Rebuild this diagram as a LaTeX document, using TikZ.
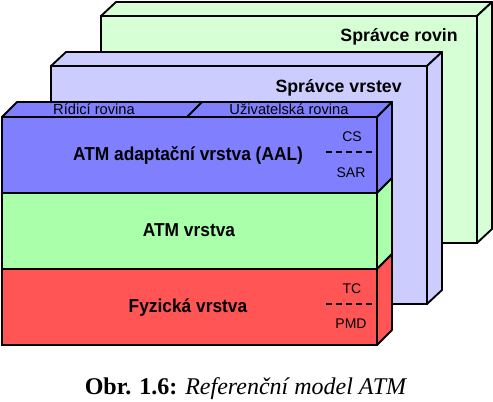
\documentclass[tikz,border=0pt]{standalone}
\usepackage{fontspec}
\setmainfont{Liberation Serif}
\setsansfont{Liberation Sans}
\usetikzlibrary{positioning}

\definecolor{planecol}{HTML}{D6FFD6}
\definecolor{layercol}{HTML}{CCCCFF}
\definecolor{aalcol}{HTML}{8080FF}
\definecolor{atmcol}{HTML}{AAFFAA}
\definecolor{phycol}{HTML}{FF5555}

\newcommand{\tallish}[1]{\scalebox{1}[1.08]{#1}}

\begin{document}
\begin{tikzpicture}[
    x=0.75pt, y=-0.75pt,
    front/.style={draw=black, line width=2.2pt, line join=miter},
    rim/.style={draw=black, line width=1.4pt, line join=round},
    layer/.style={font=\sffamily\bfseries\fontsize{13}{15}\selectfont, anchor=base, inner sep=0pt},
    mgr/.style={font=\sffamily\bfseries\fontsize{13.3}{15}\selectfont, anchor=base east, inner sep=0pt},
    plane/.style={font=\sffamily\fontsize{11}{12}\selectfont, anchor=base, inner sep=0pt},
    sub/.style={font=\sffamily\fontsize{10.5}{12}\selectfont, anchor=base, inner sep=0pt},
    split/.style={line width=1.6pt, dash pattern=on 4.5pt off 3pt}
  ]
    \useasboundingbox (0,0) rectangle (493,402);

    % plane manager (back box)
    \filldraw[rim, fill=planecol] (101,16) -- (116,2) -- (492,2) -- (477,16) -- cycle;
    \filldraw[rim, fill=planecol] (477,16) -- (492,2) -- (492,229) -- (477,243) -- cycle;
    \filldraw[front, fill=planecol] (101,16) rectangle (477,243);
    \node[mgr] (rovin) at (458,42) {Správce rovin};

    % layer manager (middle box)
    \filldraw[rim, fill=layercol] (51,66) -- (66,52) -- (442,52) -- (427,66) -- cycle;
    \filldraw[rim, fill=layercol] (427,66) -- (442,52) -- (442,290) -- (427,304) -- cycle;
    \filldraw[front, fill=layercol] (51,66) rectangle (427,304);
    \node[mgr] (vrstev) at (402,93) {Správce vrstev};

    % layer stack: top face with the two planes
    \filldraw[rim, fill=aalcol] (2,117) -- (17,102) -- (392,102) -- (377,117) -- cycle;
    \draw[rim] (187,117) -- (202,102);
    \node[plane] (ridici) at (94,115) {Řídicí rovina};
    \node[plane] (uziv) at (289,115) {Uživatelská rovina};

    % side faces
    \filldraw[rim, fill=aalcol] (377,117) -- (392,102) -- (392,178) -- (377,193) -- cycle;
    \filldraw[rim, fill=atmcol] (377,193) -- (392,178) -- (392,254) -- (377,269) -- cycle;
    \filldraw[rim, fill=phycol] (377,269) -- (392,254) -- (392,330) -- (377,345) -- cycle;

    % front faces
    \filldraw[front, fill=aalcol] (2,117) rectangle (377,193);
    \filldraw[front, fill=atmcol] (2,193) rectangle (377,269);
    \filldraw[front, fill=phycol] (2,269) rectangle (377,345);

    \node[layer] (aal) at (188,161) {\tallish{ATM adaptační vrstva (AAL)}};
    \node[layer] (atm) at (189,237) {\tallish{ATM vrstva}};
    \node[layer] (phy) at (188,313) {\tallish{Fyzická vrstva}};

    \node[sub] (cs) at (352,142) {CS};
    \node[sub] (sar) at (351,178) {SAR};
    \draw[split] (326,152) -- (377,152);
    \node[sub] (tc) at (352,294) {TC};
    \node[sub] (pmd) at (351,329) {PMD};
    \draw[split] (326,304) -- (377,304);

    % caption
    \node[anchor=base, inner sep=0pt, font=\fontsize{18}{20}\selectfont] (cap) at (246,395)
      {\textbf{Obr. 1.6:} \textit{Referenční model ATM}};
  \end{tikzpicture}
\end{document}
